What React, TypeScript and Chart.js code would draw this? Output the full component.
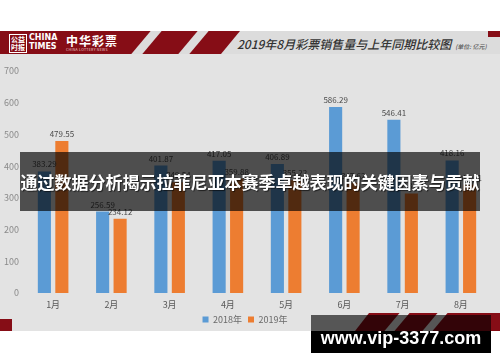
import React, { useEffect, useRef } from "react";
import { Chart, registerables } from "chart.js";

Chart.register(...registerables);

const categories = ["1月", "2月", "3月", "4月", "5月", "6月", "7月", "8月"];
const sales2018 = [383.29, 256.59, 401.87, 417.05, 406.89, 586.29, 546.41, 418.16];
const sales2019 = [479.55, 234.12, 349.54, 359.88, 355.22, 347.62, 313.94, 341.21];
const seriesNames = ["2018年", "2019年"];
const yTicks = { min: 0, max: 700, step: 100 };

const FONT = "'Noto Sans CJK SC', 'Noto Sans', sans-serif";
const RED = "#860d16";
const BG = "#e3e3e3";

const valueLabels = {
  id: "valueLabels",
  afterDatasetsDraw(chart: any) {
    const ctx = chart.ctx;
    ctx.save();
    ctx.font = `8px ${FONT}`;
    ctx.fillStyle = "#4a4a4a";
    ctx.textAlign = "center";
    ctx.textBaseline = "bottom";
    chart.data.datasets.forEach((ds: any, i: number) => {
      const meta = chart.getDatasetMeta(i);
      meta.data.forEach((el: any, j: number) => {
        ctx.fillText(Number(ds.data[j]).toFixed(2), el.x, el.y - 3);
      });
    });
    ctx.restore();
  },
};

function BarChart() {
  const ref = useRef<HTMLCanvasElement | null>(null);
  useEffect(() => {
    if (!ref.current) return;
    Chart.defaults.font.family = FONT;
    const chart = new Chart(ref.current, {
      type: "bar",
      data: {
        labels: categories,
        datasets: [
          {
            label: seriesNames[0],
            data: sales2018,
            backgroundColor: "#5b9bd5",
            categoryPercentage: 0.6,
            barPercentage: 0.75,
          },
          {
            label: seriesNames[1],
            data: sales2019,
            backgroundColor: "#ed7d31",
            categoryPercentage: 0.6,
            barPercentage: 0.75,
          },
        ],
      },
      options: {
        animation: false,
        responsive: false,
        maintainAspectRatio: false,
        layout: { padding: { top: 40, right: 10, left: 0, bottom: 2 } },
        scales: {
          x: {
            grid: { display: false, drawTicks: false },
            border: { display: false },
            ticks: { color: "#595959", font: { size: 9 }, padding: 6 },
            afterFit(s: any) {
              s.height = 16;
            },
          },
          y: {
            min: yTicks.min,
            max: yTicks.max,
            grid: { display: false, drawTicks: false },
            border: { display: false },
            ticks: { stepSize: yTicks.step, color: "#8a8a8a", font: { size: 9 }, padding: 5 },
            afterFit(s: any) {
              s.width = 24;
            },
          },
        },
        plugins: {
          legend: {
            position: "bottom",
            labels: {
              boxWidth: 6,
              boxHeight: 6,
              color: "#6a6a6a",
              font: { size: 9 },
              padding: 6,
            },
          },
          tooltip: { enabled: false },
        },
      },
      plugins: [valueLabels],
    } as any);
    return () => chart.destroy();
  }, []);
  return (
    <canvas
      ref={ref}
      width={500}
      height={305}
      style={{ position: "absolute", left: 0, top: 31, width: 500, height: 305 }}
    />
  );
}

export default function App() {
  const stripe = (left: number, width: number, top: number, height: number, color: string) => (
    <div
      style={{
        position: "absolute",
        left,
        top,
        width,
        height,
        background: color,
        transform: "skewX(-40deg)",
      }}
    />
  );
  return (
    <div
      style={{
        position: "fixed",
        left: 0,
        top: 0,
        width: 500,
        height: 362,
        background: "#ffffff",
        overflow: "hidden",
        fontFamily: FONT,
      }}
    >
      {/* gray panel */}
      <div style={{ position: "absolute", left: 0, top: 31, width: 500, height: 300, background: BG }} />

      {/* header band */}
      <div style={{ position: "absolute", left: 0, top: 31, width: 500, height: 23, background: "#dcdcdc" }} />
      <div
        style={{
          position: "absolute",
          left: 0,
          top: 31,
          width: 245,
          height: 23,
          background: RED,
          clipPath: "polygon(0 0, 240px 0, 221px 100%, 0 100%)",
        }}
      />
      {stripe(141, 11, 31, 23, "#dcdcdc")}
      {stripe(188, 11, 31, 23, "#dcdcdc")}
      <div style={{ position: "absolute", left: 488, top: 31, width: 12, height: 6, background: RED }} />
      {/* logo */}
      <div style={{ position: "absolute", left: 9, top: 34, width: 16, height: 17, border: "1px solid #fff", color: "#fff", fontSize: 7, lineHeight: "8px", textAlign: "center", fontWeight: 700 }}>
        公益<br />时报
      </div>
      <div style={{ position: "absolute", left: 29, top: 33, color: "#fff", fontSize: 8, lineHeight: "9px", fontWeight: 900, fontFamily: "'DejaVu Sans', sans-serif" }}>
        CHINA<br />TIMES
      </div>
      <div style={{ position: "absolute", left: 66, top: 32, color: "#fff", fontSize: 12, fontWeight: 700, letterSpacing: 1 }}>
        中华彩票
      </div>
      <div style={{ position: "absolute", left: 66, top: 47, color: "#f0d0d0", fontSize: 3.5, letterSpacing: 0.3 }}>
        CHINA LOTTERY NEWS
      </div>
      {/* title */}
      <div
        style={{
          position: "absolute",
          left: 237,
          top: 36,
          color: "#333",
          fontSize: 12,
          fontStyle: "italic",
          fontWeight: 500,
          whiteSpace: "nowrap",
          lineHeight: "16px",
        }}
      >
        2019年8月彩票销售量与上年同期比较图
        <span style={{ fontSize: 6, marginLeft: 4, color: "#555" }}>(单位: 亿元)</span>
      </div>

      {/* bottom decorations */}
      <div style={{ position: "absolute", left: 0, top: 319, width: 12, height: 12, background: RED }} />
      <div
        style={{
          position: "absolute",
          left: 355,
          top: 313,
          width: 145,
          height: 18,
          background: RED,
          clipPath: "polygon(14px 0, 145px 0, 145px 100%, 0 100%)",
        }}
      />
      {stripe(392, 10, 313, 18, BG)}
      {stripe(430, 10, 313, 18, BG)}

      <BarChart />

      {/* overlay banner */}
      <div
        style={{
          position: "absolute",
          left: 20,
          top: 152,
          width: 460,
          height: 59,
          background: "rgba(0,0,0,0.66)",
        }}
      />
      <div
        style={{
          position: "absolute",
          left: 20,
          top: 152,
          width: 460,
          height: 59,
          color: "#fff",
          fontSize: 17,
          fontWeight: 700,
          lineHeight: "59px",
          textAlign: "center",
          whiteSpace: "nowrap",
          textShadow: "1px 1px 1px rgba(0,0,0,0.6)",
        }}
      >
        通过数据分析揭示拉菲尼亚本赛季卓越表现的关键因素与贡献
      </div>

      {/* bottom url box */}
      <div style={{ position: "absolute", left: 311, top: 315, width: 180, height: 16, background: "rgba(0,0,0,0.62)" }} />
      <div style={{ position: "absolute", left: 311, top: 331, width: 180, height: 22, background: "#000" }} />
      <div
        style={{
          position: "absolute",
          left: 311,
          top: 315,
          width: 180,
          height: 38,
          color: "#fff",
          fontSize: 18,
          fontWeight: 700,
          lineHeight: "46px",
          textAlign: "center",
          fontFamily: "'Liberation Sans', Arial, sans-serif",
          whiteSpace: "nowrap",
        }}
      >
        www.vip-3377.com
      </div>
    </div>
  );
}
